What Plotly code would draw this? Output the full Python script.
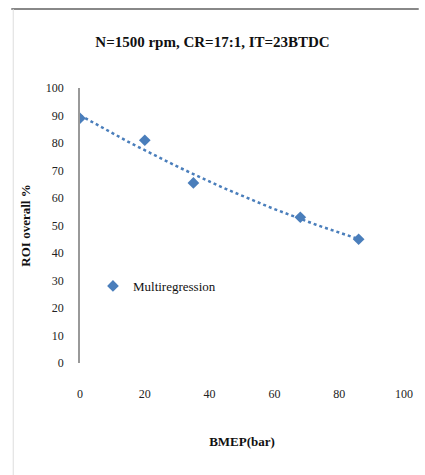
import numpy as np
import plotly.graph_objects as go

x_vals = [0, 20, 35, 68, 86]
y_vals = [89, 81, 65.5, 53, 45]
x_ticks = [0, 20, 40, 60, 80, 100]
y_ticks = [0, 10, 20, 30, 40, 50, 60, 70, 80, 90, 100]
title_text = "N=1500 rpm, CR=17:1, IT=23BTDC"
series_name = "Multiregression"
x_title = "BMEP(bar)"
y_title = "ROI overall %"

color = "#4A7EBB"
font_family = "Liberation Serif"

coef = np.polyfit(x_vals, y_vals, 2)
xt = np.linspace(min(x_vals), max(x_vals), 60)
yt = np.polyval(coef, xt)

fig = go.Figure()
fig.add_trace(go.Scatter(x=xt, y=yt, mode="lines", line=dict(color=color, width=2.5, dash="dot"),
                         showlegend=False, hoverinfo="skip"))
fig.add_trace(go.Scatter(x=x_vals, y=y_vals, mode="markers", name=series_name,
                         marker=dict(symbol="diamond", size=9, color=color)))

fig.update_layout(
    width=425, height=475,
    margin=dict(l=80, r=15, t=88, b=112),
    paper_bgcolor="white", plot_bgcolor="white",
    font=dict(family=font_family, color="#222", size=12),
    title=dict(text="<b>" + title_text + "</b>", x=0.5, xanchor="center", y=1 - 42/475, yanchor="middle",
               font=dict(family=font_family, size=15, color="#111")),
    showlegend=True,
    legend=dict(x=0.04, y=0.28, xanchor="left", yanchor="middle", bgcolor="rgba(0,0,0,0)",
                font=dict(family=font_family, size=13, color="#111")),
    xaxis=dict(range=[0, 100], tickvals=x_ticks, showgrid=False, zeroline=False, showline=False,
               ticks="", ticklabelstandoff=22,
               title=dict(text="<b>" + x_title + "</b>", standoff=36, font=dict(family=font_family, size=13, color="#111"))),
    yaxis=dict(range=[0, 100], tickvals=y_ticks, showgrid=False, zeroline=False, showline=True,
               linecolor="#999", linewidth=1.5, ticks="", ticklabelstandoff=12,
               title=dict(text="<b>" + y_title + "</b>", standoff=12, font=dict(family=font_family, size=13, color="#111"))),
)

fig.add_shape(type="line", xref="paper", yref="paper", x0=-70/330, x1=345/330, y0=1 + 79/275, y1=1 + 79/275,
              line=dict(color="#888", width=2))
fig.add_shape(type="line", xref="paper", yref="paper", x0=-68/330, x1=-68/330, y0=-112/275, y1=1 + 79/275,
              line=dict(color="#ddd", width=1))

fig.write_html("out.html")
